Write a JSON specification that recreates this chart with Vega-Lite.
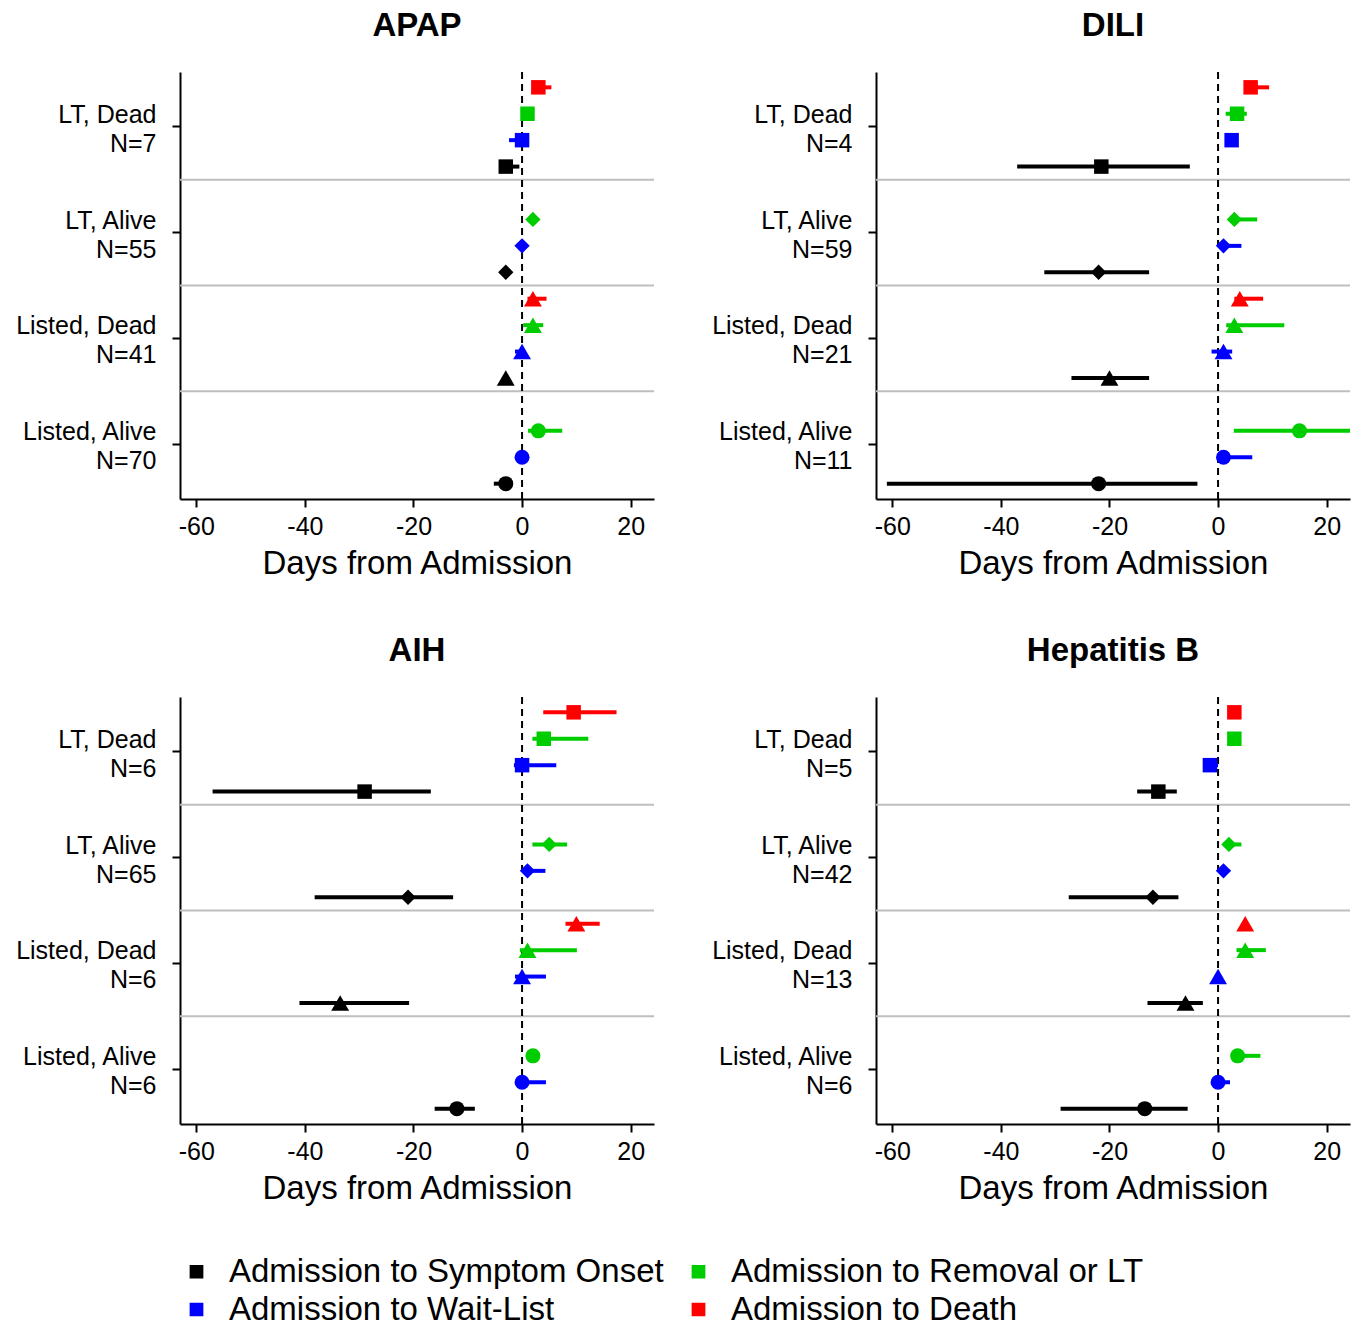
{
  "$schema": "https://vega.github.io/schema/vega-lite/v6.json",
  "padding": {"left": 10, "top": 10, "right": 5, "bottom": 0},
  "config": {"font": "Liberation Sans", "view": {"stroke": null}},
  "data": {"values": [
    {"p": "APAP", "g": "LT, Dead|N=7", "s": "LT, Dead", "e": "Admission to Death", "v": 3, "lo": 2, "hi": 5.4},
    {"p": "APAP", "g": "LT, Dead|N=7", "s": "LT, Dead", "e": "Admission to Removal or LT", "v": 1, "lo": 0.5, "hi": 1.6},
    {"p": "APAP", "g": "LT, Dead|N=7", "s": "LT, Dead", "e": "Admission to Wait-List", "v": 0, "lo": -2.4, "hi": 1},
    {"p": "APAP", "g": "LT, Dead|N=7", "s": "LT, Dead", "e": "Admission to Symptom Onset", "v": -3, "lo": -3.6, "hi": -0.5},
    {"p": "APAP", "g": "LT, Alive|N=55", "s": "LT, Alive", "e": "Admission to Removal or LT", "v": 2, "lo": 1.5, "hi": 2.5},
    {"p": "APAP", "g": "LT, Alive|N=55", "s": "LT, Alive", "e": "Admission to Wait-List", "v": 0, "lo": -0.3, "hi": 0.3},
    {"p": "APAP", "g": "LT, Alive|N=55", "s": "LT, Alive", "e": "Admission to Symptom Onset", "v": -3, "lo": -3.5, "hi": -2.5},
    {"p": "APAP", "g": "Listed, Dead|N=41", "s": "Listed, Dead", "e": "Admission to Death", "v": 2, "lo": 1, "hi": 4.5},
    {"p": "APAP", "g": "Listed, Dead|N=41", "s": "Listed, Dead", "e": "Admission to Removal or LT", "v": 2, "lo": 0.2, "hi": 3.9},
    {"p": "APAP", "g": "Listed, Dead|N=41", "s": "Listed, Dead", "e": "Admission to Wait-List", "v": 0, "lo": -1.3, "hi": 0.5},
    {"p": "APAP", "g": "Listed, Dead|N=41", "s": "Listed, Dead", "e": "Admission to Symptom Onset", "v": -3, "lo": -3.5, "hi": -2.5},
    {"p": "APAP", "g": "Listed, Alive|N=70", "s": "Listed, Alive", "e": "Admission to Removal or LT", "v": 3, "lo": 1.1, "hi": 7.4},
    {"p": "APAP", "g": "Listed, Alive|N=70", "s": "Listed, Alive", "e": "Admission to Wait-List", "v": 0, "lo": -0.3, "hi": 0.3},
    {"p": "APAP", "g": "Listed, Alive|N=70", "s": "Listed, Alive", "e": "Admission to Symptom Onset", "v": -3, "lo": -5.2, "hi": -1.7},

    {"p": "DILI", "g": "LT, Dead|N=4", "s": "LT, Dead", "e": "Admission to Death", "v": 6, "lo": 5, "hi": 9.4},
    {"p": "DILI", "g": "LT, Dead|N=4", "s": "LT, Dead", "e": "Admission to Removal or LT", "v": 3.5, "lo": 1.4, "hi": 5.3},
    {"p": "DILI", "g": "LT, Dead|N=4", "s": "LT, Dead", "e": "Admission to Wait-List", "v": 2.5, "lo": 2, "hi": 3},
    {"p": "DILI", "g": "LT, Dead|N=4", "s": "LT, Dead", "e": "Admission to Symptom Onset", "v": -21.5, "lo": -37, "hi": -5.2},
    {"p": "DILI", "g": "LT, Alive|N=59", "s": "LT, Alive", "e": "Admission to Removal or LT", "v": 3, "lo": 2, "hi": 7.2},
    {"p": "DILI", "g": "LT, Alive|N=59", "s": "LT, Alive", "e": "Admission to Wait-List", "v": 1, "lo": 0, "hi": 4.3},
    {"p": "DILI", "g": "LT, Alive|N=59", "s": "LT, Alive", "e": "Admission to Symptom Onset", "v": -22, "lo": -32, "hi": -12.7},
    {"p": "DILI", "g": "Listed, Dead|N=21", "s": "Listed, Dead", "e": "Admission to Death", "v": 4, "lo": 3, "hi": 8.3},
    {"p": "DILI", "g": "Listed, Dead|N=21", "s": "Listed, Dead", "e": "Admission to Removal or LT", "v": 3, "lo": 1.5, "hi": 12.2},
    {"p": "DILI", "g": "Listed, Dead|N=21", "s": "Listed, Dead", "e": "Admission to Wait-List", "v": 1, "lo": -1.2, "hi": 2.6},
    {"p": "DILI", "g": "Listed, Dead|N=21", "s": "Listed, Dead", "e": "Admission to Symptom Onset", "v": -20, "lo": -27, "hi": -12.7},
    {"p": "DILI", "g": "Listed, Alive|N=11", "s": "Listed, Alive", "e": "Admission to Removal or LT", "v": 15, "lo": 2.9, "hi": 24.3},
    {"p": "DILI", "g": "Listed, Alive|N=11", "s": "Listed, Alive", "e": "Admission to Wait-List", "v": 1, "lo": 0.5, "hi": 6.3},
    {"p": "DILI", "g": "Listed, Alive|N=11", "s": "Listed, Alive", "e": "Admission to Symptom Onset", "v": -22, "lo": -61, "hi": -3.8},

    {"p": "AIH", "g": "LT, Dead|N=6", "s": "LT, Dead", "e": "Admission to Death", "v": 9.5, "lo": 3.9, "hi": 17.4},
    {"p": "AIH", "g": "LT, Dead|N=6", "s": "LT, Dead", "e": "Admission to Removal or LT", "v": 4, "lo": 1.9, "hi": 12.2},
    {"p": "AIH", "g": "LT, Dead|N=6", "s": "LT, Dead", "e": "Admission to Wait-List", "v": 0, "lo": -1.5, "hi": 6.3},
    {"p": "AIH", "g": "LT, Dead|N=6", "s": "LT, Dead", "e": "Admission to Symptom Onset", "v": -29, "lo": -57, "hi": -16.8},
    {"p": "AIH", "g": "LT, Alive|N=65", "s": "LT, Alive", "e": "Admission to Removal or LT", "v": 5, "lo": 1.9, "hi": 8.3},
    {"p": "AIH", "g": "LT, Alive|N=65", "s": "LT, Alive", "e": "Admission to Wait-List", "v": 1, "lo": 0, "hi": 4.3},
    {"p": "AIH", "g": "LT, Alive|N=65", "s": "LT, Alive", "e": "Admission to Symptom Onset", "v": -21, "lo": -38.2, "hi": -12.7},
    {"p": "AIH", "g": "Listed, Dead|N=6", "s": "Listed, Dead", "e": "Admission to Death", "v": 10, "lo": 8, "hi": 14.3},
    {"p": "AIH", "g": "Listed, Dead|N=6", "s": "Listed, Dead", "e": "Admission to Removal or LT", "v": 1, "lo": -0.4, "hi": 10.1},
    {"p": "AIH", "g": "Listed, Dead|N=6", "s": "Listed, Dead", "e": "Admission to Wait-List", "v": 0, "lo": -1.3, "hi": 4.4},
    {"p": "AIH", "g": "Listed, Dead|N=6", "s": "Listed, Dead", "e": "Admission to Symptom Onset", "v": -33.5, "lo": -41, "hi": -20.8},
    {"p": "AIH", "g": "Listed, Alive|N=6 ", "s": "Listed, Alive", "e": "Admission to Removal or LT", "v": 2, "lo": 1.5, "hi": 2.5},
    {"p": "AIH", "g": "Listed, Alive|N=6 ", "s": "Listed, Alive", "e": "Admission to Wait-List", "v": 0, "lo": -0.3, "hi": 4.4},
    {"p": "AIH", "g": "Listed, Alive|N=6 ", "s": "Listed, Alive", "e": "Admission to Symptom Onset", "v": -12, "lo": -16.1, "hi": -8.7},

    {"p": "Hepatitis B", "g": "LT, Dead|N=5", "s": "LT, Dead", "e": "Admission to Death", "v": 3, "lo": 2.5, "hi": 3.5},
    {"p": "Hepatitis B", "g": "LT, Dead|N=5", "s": "LT, Dead", "e": "Admission to Removal or LT", "v": 3, "lo": 2.5, "hi": 3.5},
    {"p": "Hepatitis B", "g": "LT, Dead|N=5", "s": "LT, Dead", "e": "Admission to Wait-List", "v": -1.5, "lo": -2, "hi": 0},
    {"p": "Hepatitis B", "g": "LT, Dead|N=5", "s": "LT, Dead", "e": "Admission to Symptom Onset", "v": -11, "lo": -14.9, "hi": -7.6},
    {"p": "Hepatitis B", "g": "LT, Alive|N=42", "s": "LT, Alive", "e": "Admission to Removal or LT", "v": 2, "lo": 1, "hi": 4.3},
    {"p": "Hepatitis B", "g": "LT, Alive|N=42", "s": "LT, Alive", "e": "Admission to Wait-List", "v": 1, "lo": 0.5, "hi": 1.5},
    {"p": "Hepatitis B", "g": "LT, Alive|N=42", "s": "LT, Alive", "e": "Admission to Symptom Onset", "v": -12, "lo": -27.5, "hi": -7.3},
    {"p": "Hepatitis B", "g": "Listed, Dead|N=13", "s": "Listed, Dead", "e": "Admission to Death", "v": 5, "lo": 4.5, "hi": 5.5},
    {"p": "Hepatitis B", "g": "Listed, Dead|N=13", "s": "Listed, Dead", "e": "Admission to Removal or LT", "v": 5, "lo": 3.4, "hi": 8.8},
    {"p": "Hepatitis B", "g": "Listed, Dead|N=13", "s": "Listed, Dead", "e": "Admission to Wait-List", "v": 0, "lo": -0.5, "hi": 0.5},
    {"p": "Hepatitis B", "g": "Listed, Dead|N=13", "s": "Listed, Dead", "e": "Admission to Symptom Onset", "v": -6, "lo": -13, "hi": -2.8},
    {"p": "Hepatitis B", "g": "Listed, Alive|N=6", "s": "Listed, Alive", "e": "Admission to Removal or LT", "v": 3.6, "lo": 3, "hi": 7.8},
    {"p": "Hepatitis B", "g": "Listed, Alive|N=6", "s": "Listed, Alive", "e": "Admission to Wait-List", "v": 0, "lo": -1, "hi": 2.2},
    {"p": "Hepatitis B", "g": "Listed, Alive|N=6", "s": "Listed, Alive", "e": "Admission to Symptom Onset", "v": -13.5, "lo": -29, "hi": -5.6}
  ]},
  "facet": {"field": "p", "type": "nominal", "sort": ["APAP", "DILI", "AIH", "Hepatitis B"],
    "header": {"title": null, "labelFontSize": 33, "labelFontWeight": "bold", "labelPadding": 28, "labelColor": "black"}},
  "columns": 2,
  "spacing": {"row": 55, "column": 51},
  "resolve": {"scale": {"y": "independent", "x": "independent", "yOffset": "independent"}},
  "spec": {
    "width": 474,
    "height": 427,
    "layer": [
      {
        "transform": [{"filter": "datum.e == 'Admission to Symptom Onset'"}],
        "mark": {"type": "rule", "color": "#BEBEBE", "strokeWidth": 2},
        "encoding": {
          "y": {"field": "g", "type": "nominal", "sort": null, "bandPosition": 0,
            "scale": {"type": "band", "paddingInner": 0, "paddingOuter": 0.02},
            "axis": {"title": null, "labelExpr": "split(datum.label, '|')", "labelFontSize": 25, "labelColor": "black", "labelAlign": "right", "labelBaseline": "middle", "labelLineHeight": 29, "labelPadding": 16, "labelOffset": -12, "tickSize": 8, "tickWidth": 2, "tickColor": "black", "domainColor": "black", "domainWidth": 2, "minExtent": 170, "maxExtent": 170, "labelLimit": 0}},
          "opacity": {"condition": {"test": "datum.s == 'LT, Dead'", "value": 0}, "value": 1}
        }
      },
      {
        "transform": [{"filter": "datum.e == 'Admission to Symptom Onset' && datum.s == 'LT, Dead'"}],
        "mark": {"type": "rule", "color": "black", "strokeWidth": 2, "strokeDash": [7, 5]},
        "encoding": {"x": {"datum": 0, "type": "quantitative"}}
      },
      {
        "mark": {"type": "rule", "strokeWidth": 4, "strokeCap": "butt"},
        "encoding": {
          "x": {"field": "lo", "type": "quantitative",
            "scale": {"domain": [-63, 24.3], "nice": false, "zero": false},
            "axis": {"title": "Days from Admission", "values": [-60, -40, -20, 0, 20], "labelExpr": "'' + datum.value", "grid": false, "labelFontSize": 25, "labelColor": "black", "titleFontSize": 33, "titleFontWeight": "normal", "titleColor": "black", "tickSize": 8, "tickWidth": 2, "tickColor": "black", "domainColor": "black", "domainWidth": 2, "labelPadding": 7, "titlePadding": 8}},
          "x2": {"field": "hi"},
          "y": {"field": "g", "type": "nominal", "sort": null,
            "axis": {"title": null, "labelExpr": "split(datum.label, '|')", "labelFontSize": 25, "labelColor": "black", "labelAlign": "right", "labelBaseline": "middle", "labelLineHeight": 29, "labelPadding": 16, "labelOffset": -12, "tickSize": 8, "tickWidth": 2, "tickColor": "black", "domainColor": "black", "domainWidth": 2, "minExtent": 170, "maxExtent": 170, "labelLimit": 0}},
          "yOffset": {"field": "e", "type": "nominal",
            "scale": {"domain": ["Admission to Death", "Admission to Removal or LT", "Admission to Wait-List", "Admission to Symptom Onset"], "paddingInner": 0, "paddingOuter": 0}},
          "color": {"field": "e", "type": "nominal",
            "scale": {"domain": ["Admission to Symptom Onset", "Admission to Removal or LT", "Admission to Wait-List", "Admission to Death"], "range": ["#000000", "#00CD00", "#0000FF", "#FF0000"]},
            "legend": {"orient": "bottom", "title": null, "columns": 2, "symbolType": "square", "symbolSize": 150, "labelFontSize": 33, "labelColor": "black", "labelOffset": 16, "columnPadding": 18, "rowPadding": 4, "offset": 50, "labelLimit": 0}}
        }
      },
      {
        "mark": {"type": "point", "filled": true, "opacity": 1},
        "encoding": {
          "x": {"field": "v", "type": "quantitative"},
          "y": {"field": "g", "type": "nominal", "sort": null,
            "axis": {"title": null, "labelExpr": "split(datum.label, '|')", "labelFontSize": 25, "labelColor": "black", "labelAlign": "right", "labelBaseline": "middle", "labelLineHeight": 29, "labelPadding": 16, "labelOffset": -12, "tickSize": 8, "tickWidth": 2, "tickColor": "black", "domainColor": "black", "domainWidth": 2, "minExtent": 170, "maxExtent": 170, "labelLimit": 0}},
          "yOffset": {"field": "e", "type": "nominal"},
          "color": {"field": "e", "type": "nominal",
            "scale": {"domain": ["Admission to Symptom Onset", "Admission to Removal or LT", "Admission to Wait-List", "Admission to Death"], "range": ["#000000", "#00CD00", "#0000FF", "#FF0000"]},
            "legend": {"orient": "bottom", "title": null, "columns": 2, "symbolType": "square", "symbolSize": 150, "labelFontSize": 33, "labelColor": "black", "labelOffset": 16, "columnPadding": 18, "rowPadding": 4, "offset": 50, "labelLimit": 0}},
          "shape": {"field": "s", "type": "nominal", "legend": null,
            "scale": {"domain": ["LT, Dead", "LT, Alive", "Listed, Dead", "Listed, Alive"], "range": ["square", "diamond", "triangle-up", "circle"]}},
          "size": {"field": "s", "type": "nominal", "legend": null,
            "scale": {"type": "ordinal", "domain": ["LT, Dead", "LT, Alive", "Listed, Dead", "Listed, Alive"], "range": [210, 235, 320, 225]}}
        }
      }
    ]
  }
}
